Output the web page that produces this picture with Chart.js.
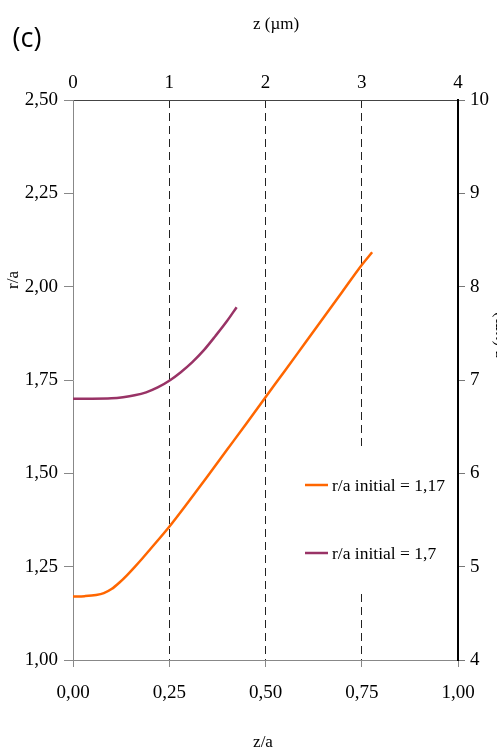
<!DOCTYPE html>
<html>
<head>
<meta charset="utf-8">
<script src="https://cdn.jsdelivr.net/npm/chart.js"></script>
<style>
  html, body { margin: 0; padding: 0; background: #fff; }
  #wrap { width: 497px; height: 749px; position: relative; }
</style>
</head>
<body>
<div id="wrap"><canvas id="chart" width="497" height="749"></canvas></div>
<script>
// data (z/a -> r/a)
const orangeX = [0, 0.03, 0.06, 0.08, 0.10, 0.12, 0.14, 0.16, 0.18, 0.20, 0.25, 0.30, 0.35, 0.40, 0.45, 0.50, 0.55, 0.60, 0.65, 0.70, 0.75, 0.777];
const orangeY = [1.170, 1.171, 1.174, 1.179, 1.190, 1.207, 1.227, 1.249, 1.272, 1.296, 1.357, 1.424, 1.493, 1.563, 1.633, 1.704, 1.774, 1.845, 1.916, 1.987, 2.058, 2.092];
const purpleX = [0, 0.05, 0.10, 0.13, 0.16, 0.19, 0.22, 0.25, 0.28, 0.31, 0.34, 0.37, 0.40, 0.425];
const purpleY = [1.700, 1.700, 1.701, 1.704, 1.709, 1.717, 1.730, 1.748, 1.771, 1.798, 1.830, 1.868, 1.908, 1.945];

const seriesNames = ['r/a initial = 1,17', 'r/a initial = 1,7'];
const seriesColors = ['#FF6600', '#993366'];

// tick labels
const xLabels = ['0,00', '0,25', '0,50', '0,75', '1,00'];
const yLabels = ['1,00', '1,25', '1,50', '1,75', '2,00', '2,25', '2,50'];
const topLabels = ['0', '1', '2', '3', '4'];
const rightLabels = ['4', '5', '6', '7', '8', '9', '10'];

const SERIF = "'Liberation Serif', 'DejaVu Serif', serif";

const toPoints = (xs, ys) => xs.map((x, i) => ({ x, y: ys[i] }));

// ---------- titles, panel letter and the in-plot legend ----------
const extras = {
  id: 'extras',
  beforeDatasetsDraw(chart) {
    const ctx = chart.ctx;
    ctx.save();
    ctx.fillStyle = '#fff';
    ctx.fillRect(300, 447, 156, 143); // legend box hides the gridline
    ctx.restore();
  },
  afterDatasetsDraw(chart) {
    const ctx = chart.ctx;
    ctx.save();
    const rows = [485, 553];
    seriesNames.forEach((name, i) => {
      ctx.strokeStyle = seriesColors[i];
      ctx.lineWidth = 2.5;
      ctx.beginPath();
      ctx.moveTo(305, rows[i]);
      ctx.lineTo(328, rows[i]);
      ctx.stroke();
      ctx.fillStyle = '#000';
      ctx.font = '17.5px ' + SERIF;
      ctx.textBaseline = 'middle';
      ctx.textAlign = 'left';
      ctx.fillText(name, 332, rows[i] + 1);
    });
    ctx.restore();
  },
  afterDraw(chart) {
    const ctx = chart.ctx;
    ctx.save();
    ctx.fillStyle = '#000';
    ctx.textBaseline = 'middle';
    ctx.textAlign = 'center';

    ctx.font = "27px 'Open Sans', 'Noto Sans', sans-serif";
    ctx.fillText('(c)', 27, 39);

    ctx.font = '17px ' + SERIF;
    ctx.fillText('z (µm)', 276, 25);
    ctx.fillText('z/a', 263, 743);

    ctx.translate(14, 280);
    ctx.rotate(-Math.PI / 2);
    ctx.fillText('r/a', 0, 0);
    ctx.restore();

    ctx.save();
    ctx.fillStyle = '#000';
    ctx.font = '17px ' + SERIF;
    ctx.textAlign = 'center';
    ctx.textBaseline = 'middle';
    ctx.translate(500, 335);
    ctx.rotate(-Math.PI / 2);
    ctx.fillText('z (µm)', 0, 0);
    ctx.restore();
  }
};

function makeChart() {
  const ctx = document.getElementById('chart').getContext('2d');
  new Chart(ctx, {
    type: 'scatter',
    data: {
      datasets: [{
        label: seriesNames[0],
        data: toPoints(orangeX, orangeY),
        borderColor: seriesColors[0],
        backgroundColor: seriesColors[0],
        borderWidth: 2.5,
        showLine: true,
        pointRadius: 0,
        cubicInterpolationMode: 'monotone',
        xAxisID: 'x',
        yAxisID: 'y'
      }, {
        label: seriesNames[1],
        data: toPoints(purpleX, purpleY),
        borderColor: seriesColors[1],
        backgroundColor: seriesColors[1],
        borderWidth: 2.5,
        showLine: true,
        pointRadius: 0,
        cubicInterpolationMode: 'monotone',
        xAxisID: 'x',
        yAxisID: 'y'
      }]
    },
    options: {
      responsive: false,
      animation: false,
      layout: { padding: 0 },
      plugins: {
        legend: { display: false },
        tooltip: { enabled: false }
      },
      scales: {
        x: {
          type: 'linear', position: 'bottom', min: 0, max: 1,
          afterFit: s => { s.height = 89; },
          ticks: {
            stepSize: 0.25, padding: 15, color: '#000',
            font: { family: SERIF, size: 19 },
            callback: (v, i) => xLabels[i]
          },
          grid: {
            color: c => (c.tick && c.tick.value > 0 && c.tick.value < 1) ? '#222' : 'rgba(0,0,0,0)',
            lineWidth: 1,
            tickColor: '#888',
            tickLength: 7,
            tickBorderDash: []
          },
          border: { color: '#888', width: 1, dash: [8, 5] }
        },
        x2: {
          type: 'linear', position: 'top', min: 0, max: 4,
          afterFit: s => { s.height = 100; },
          ticks: {
            stepSize: 1, padding: 6, color: '#000',
            font: { family: SERIF, size: 19 },
            callback: (v, i) => topLabels[i]
          },
          grid: { drawOnChartArea: false, drawTicks: false, tickLength: 0 },
          border: { color: '#444', width: 1 }
        },
        y: {
          type: 'linear', position: 'left', min: 1, max: 2.5,
          afterFit: s => { s.width = 73; },
          ticks: {
            stepSize: 0.25, padding: 6, color: '#000',
            font: { family: SERIF, size: 19 },
            callback: (v, i) => yLabels[i]
          },
          grid: { drawOnChartArea: false, tickColor: '#888', tickLength: 9 },
          border: { color: '#888', width: 1 }
        },
        y2: {
          type: 'linear', position: 'right', min: 4, max: 10,
          afterFit: s => { s.width = 39; },
          ticks: {
            stepSize: 1, padding: 5, color: '#000',
            font: { family: SERIF, size: 19 },
            callback: (v, i) => rightLabels[i]
          },
          grid: { drawOnChartArea: false, tickColor: '#777', tickLength: 7 },
          border: { color: '#000', width: 2 }
        }
      }
    },
    plugins: [extras]
  });
}

document.addEventListener('DOMContentLoaded', makeChart);
</script>
</body>
</html>
